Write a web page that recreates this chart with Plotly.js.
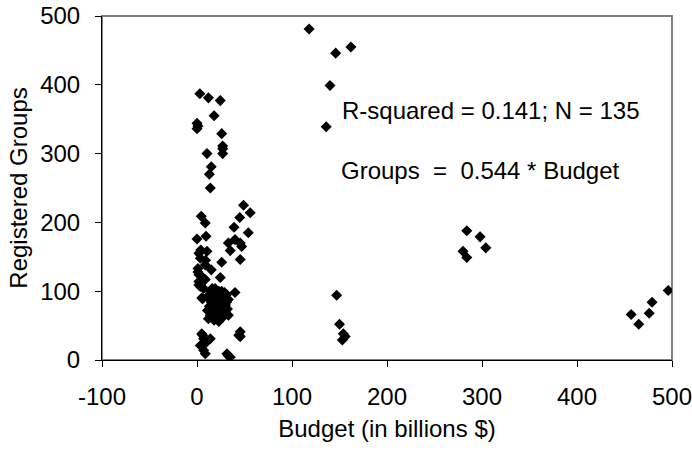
<!DOCTYPE html>
<html>
<head>
<meta charset="utf-8">
<script src="https://cdn.plot.ly/plotly-3.0.1.min.js"></script>
<style>
html,body{margin:0;padding:0;background:#fff;}
#chart{width:692px;height:453px;}
</style>
</head>
<body>
<div id="chart"></div>
<script>
// Budget (in billions $)
const budget = [
  118,146,162,140,136,
  147,150,154,156,153,
  284,298,304,280,284,
  457,465,476,479,496,
  3,12,24.5,18,0,0,1,26,10.5,27,27,27,15,13,14,49,56,4.5,45,8.7,39,54,0,9.5,40,45.5,47,35,2,10.5,45.5,3.5,26,1,15,8.7,2,24.5,2,3.5,8.7,40,6,2,5,
  45.5,45.5,44,5,7,14,3.5,8.7,7,31.5,35,33,10,6,
  12,14,16,18,20,22,24,26,28,30,
  13,15,17,19,21,23,25,27,29,31,
  11,12,14,16,18,20,22,24,26,28,
  30,32,33,19,17,25,23,21,27,15,
  20,22,18,24,26,29,31,13,16,33,
  4,6,1,9,33,7
];
// Registered Groups
const groups = [
  481,446,455,399,339,
  94,52,38,34,29,
  188,179,163,158,149,
  66,52,68,84,101,
  387,381,377,355,344,336,340,329,300,311,307,300,281,270,250,225,214,209,207,199,193,185,176,180,175,170,165,159,155,158,146,148,142,133,131,138,124,120,114,107,117,98,89,109,90,
  41,34,36,38,31,31,21,9,14,9,4,6,26,36,
  60,65,70,58,62,66,72,68,75,80,
  78,84,88,92,96,100,94,90,86,95,
  72,90,100,76,82,86,78,84,88,92,
  70,74,65,104,98,60,56,74,62,62,
  80,92,68,78,100,98,84,95,104,88,
  160,120,128,145,170,104
];
const xTicks = [-100,0,100,200,300,400,500];
const yTicks = [0,100,200,300,400,500];
const note1 = "R-squared = 0.141; N = 135";
const note2 = "Groups  =  0.544 * Budget";

const fam = "Liberation Sans, Arial, sans-serif";
const f = (s) => ({family: fam, size: s, color: "#000"});

Plotly.newPlot("chart", [{
  type: "scatter",
  mode: "markers",
  x: budget,
  y: groups,
  marker: {symbol: "diamond", size: 8.5, color: "#000"},
  hoverinfo: "x+y"
}], {
  width: 692, height: 453,
  margin: {l: 102, r: 20, t: 16, b: 93},
  paper_bgcolor: "#fff",
  plot_bgcolor: "#fff",
  showlegend: false,
  font: f(24),
  xaxis: {
    range: [-100, 500],
    tickvals: xTicks,
    ticktext: xTicks.map(String),
    showgrid: false, zeroline: false,
    showline: true, linecolor: "#000", linewidth: 1,
    ticks: "outside", ticklen: 6, tickcolor: "#000",
    ticklabelstandoff: 9,
    ticklabeloverflow: "allow",
    tickfont: f(24),
    title: {text: "Budget (in billions $)", font: f(24), standoff: 11}
  },
  yaxis: {
    range: [0, 500],
    tickvals: yTicks,
    ticktext: yTicks.map(String),
    showgrid: false, zeroline: false,
    showline: true, linecolor: "#000", linewidth: 1,
    ticks: "outside", ticklen: 6, tickcolor: "#000",
    ticklabelstandoff: 10,
    ticklabeloverflow: "allow",
    tickfont: f(24),
    title: {text: "Registered Groups", font: f(24), standoff: 5}
  },
  shapes: [{
    type: "rect", xref: "paper", yref: "paper", x0: 0, x1: 1, y0: 0, y1: 1,
    line: {color: "#808080", width: 2}, layer: "below"
  }],
  annotations: [
    {xref: "x", yref: "y", x: 151, y: 362, xanchor: "left", yanchor: "middle",
     text: note1, showarrow: false, font: f(24)},
    {xref: "x", yref: "y", x: 149, y: 275, xanchor: "left", yanchor: "middle",
     text: note2, showarrow: false, font: f(24)}
  ]
}, {displayModeBar: false, staticPlot: true});
</script>
</body>
</html>
